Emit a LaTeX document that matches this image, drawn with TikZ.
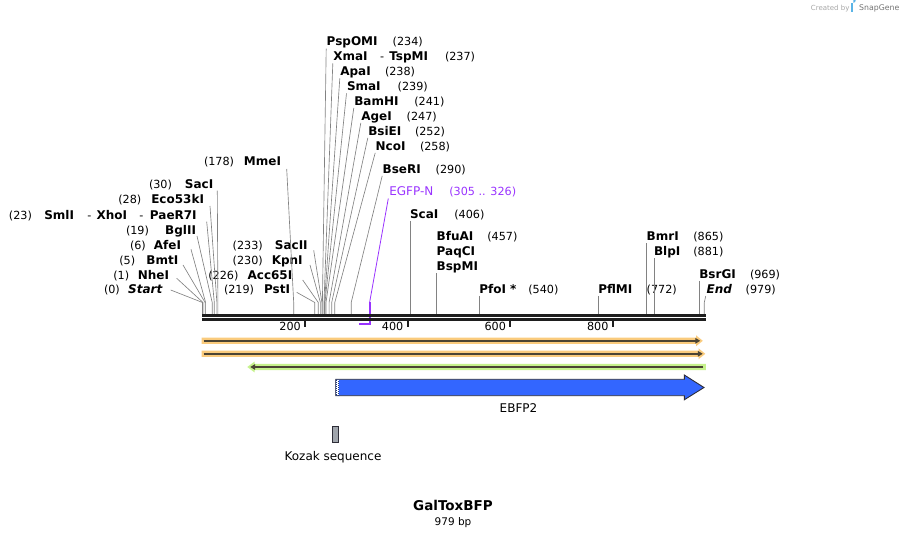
\documentclass[tikz,border=0pt]{standalone}
\usepackage{fontspec}
\setmainfont{DejaVu Sans}
\usetikzlibrary{arrows.meta}
\definecolor{cutgray}{RGB}{130,130,130}
\definecolor{primer}{RGB}{153,51,255}
\definecolor{orband}{RGB}{250,203,125}
\definecolor{grband}{RGB}{198,242,140}
\definecolor{bandline}{RGB}{75,68,52}
\definecolor{ebfp}{RGB}{51,102,255}
\definecolor{kozak}{RGB}{160,165,172}
\definecolor{outl}{RGB}{45,45,55}
\definecolor{mapc}{RGB}{30,30,30}
\definecolor{logoblue}{RGB}{90,180,230}
\begin{document}
\begin{tikzpicture}[x=1pt,y=-1pt,
  nm/.style={font=\bfseries\fontsize{12}{14}\selectfont, inner sep=0pt, outer sep=0pt},
  nmW/.style={nm, anchor=base west},
  nmE/.style={nm, anchor=base east},
  num/.style={font=\fontsize{11.2}{13}\selectfont, inner sep=0pt, outer sep=0pt, anchor=base west},
  flab/.style={font=\fontsize{12}{14}\selectfont, inner sep=0pt, outer sep=0pt, anchor=base},
  cut/.style={draw=cutgray, line width=0.65pt},
  ticklab/.style={font=\fontsize{11.2}{13}\selectfont, inner sep=0pt, anchor=base east}]
\useasboundingbox (0,0) rectangle (908,537);

% ---------- site coordinates (bend point and map point) ----------
\foreach \n/\x in {Start/202.5, NheI/203.0, BmtI/205.1, AfeI/205.6, BglII/212.2,
  SmlI/214.3, Eco53kI/216.9, SacI/217.9, MmeI/293.7, PstI/314.8, Acc65I/318.3,
  KpnI/320.4, SacII/321.9, PspOMI/322.4, XmaI/324.0, ApaI/324.5, SmaI/325.0,
  BamHI/326.0, AgeI/329.1, BsiEI/331.7, NcoI/334.8, BseRI/351.2, EGFPN/369.6,
  ScaI/410.6, BfuAI/436.8, PfoI/479.3, PflMI/598.2, BmrI/645.9, BlpI/654.1,
  BsrGI/699.2, End/704.3}{
  \coordinate (b\n) at (\x,302.5);
  \coordinate (s\n) at (\x,314);
}

% ---------- left labels ----------
\node[num] (pSacI) at (149,188.3) {(30)};
\node[nmE] (lSacI) at (213.3,188.3) {SacI};
\node[num] (pEco53kI) at (118.3,204) {(28)};
\node[nmE] (lEco53kI) at (204,204) {Eco53kI};
\node[num] (pSmlI) at (9,219.3) {(23)};
\node[nmW] (lSmlI) at (44.3,219.3) {SmlI};
\node[num] (dXhoI) at (87.3,219.3) {-};
\node[nmW] (lXhoI) at (96.7,219.3) {XhoI};
\node[num] (dPaeR7I) at (139.3,219.3) {-};
\node[nmE] (lPaeR7I) at (196.7,219.3) {PaeR7I};
\node[num] (pBglII) at (126,234.3) {(19)};
\node[nmE] (lBglII) at (196,234.3) {BglII};
\node[num] (pAfeI) at (130,249.3) {(6)};
\node[nmE] (lAfeI) at (181,249.3) {AfeI};
\node[num] (pBmtI) at (119.3,264.3) {(5)};
\node[nmE] (lBmtI) at (178.3,264.3) {BmtI};
\node[num] (pNheI) at (113.3,279.3) {(1)};
\node[nmE] (lNheI) at (169,279.3) {NheI};
\node[num] (pStart) at (104,294) {(0)};
\node[nmE] (lStart) at (162.3,294) {\itshape Start};

\node[num] (pMmeI) at (204,166) {(178)};
\node[nmE] (lMmeI) at (281,166) {MmeI};
\node[num] (pSacII) at (232.7,249.3) {(233)};
\node[nmE] (lSacII) at (307.7,249.3) {SacII};
\node[num] (pKpnI) at (232.7,264.3) {(230)};
\node[nmE] (lKpnI) at (302.7,264.3) {KpnI};
\node[num] (pAcc65I) at (208.3,279.3) {(226)};
\node[nmE] (lAcc65I) at (292.3,279.3) {Acc65I};
\node[num] (pPstI) at (224,294) {(219)};
\node[nmE] (lPstI) at (290,294) {PstI};

% ---------- top labels ----------
\node[nmW] (lPspOMI) at (326.7,46) {PspOMI};
\node[num] (pPspOMI) at (392.7,46) {(234)};
\node[nmW] (lXmaI) at (333.3,60.7) {XmaI};
\node[num] (dTspMI) at (380,60.7) {-};
\node[nmW] (lTspMI) at (389.3,60.7) {TspMI};
\node[num] (pXmaI) at (445,60.7) {(237)};
\node[nmW] (lApaI) at (340.3,75.7) {ApaI};
\node[num] (pApaI) at (385,75.7) {(238)};
\node[nmW] (lSmaI) at (347,90.7) {SmaI};
\node[num] (pSmaI) at (397.7,90.7) {(239)};
\node[nmW] (lBamHI) at (354.3,105.3) {BamHI};
\node[num] (pBamHI) at (414.3,105.3) {(241)};
\node[nmW] (lAgeI) at (361.3,120.3) {AgeI};
\node[num] (pAgeI) at (406.7,120.3) {(247)};
\node[nmW] (lBsiEI) at (368.3,135.3) {BsiEI};
\node[num] (pBsiEI) at (415,135.3) {(252)};
\node[nmW] (lNcoI) at (375.7,150.3) {NcoI};
\node[num] (pNcoI) at (420,150.3) {(258)};
\node[nmW] (lBseRI) at (382.7,173.3) {BseRI};
\node[num] (pBseRI) at (435.7,173.3) {(290)};
\node[flab, anchor=base west, text=primer] (lEGFPN) at (389.3,196) {EGFP-N};
\node[num, text=primer] (pEGFPN) at (449.3,196) {(305 .. 326)};

% ---------- right labels ----------
\node[nmW] (lScaI) at (410,218.3) {ScaI};
\node[num] (pScaI) at (454.3,218.3) {(406)};
\node[nmW] (lBfuAI) at (436.7,241) {BfuAI};
\node[num] (pBfuAI) at (487.3,241) {(457)};
\node[nmW] (lPaqCI) at (436.7,256) {PaqCI};
\node[nmW] (lBspMI) at (436.7,270.7) {BspMI};
\node[nmW] (lPfoI) at (479.3,293.3) {PfoI *};
\node[num] (pPfoI) at (528.3,293.3) {(540)};
\node[nmW] (lPflMI) at (598.3,293.3) {PflMI};
\node[num] (pPflMI) at (646.7,293.3) {(772)};
\node[nmW] (lBmrI) at (646.7,240.7) {BmrI};
\node[num] (pBmrI) at (693.3,240.7) {(865)};
\node[nmW] (lBlpI) at (654,255.7) {BlpI};
\node[num] (pBlpI) at (693.3,255.7) {(881)};
\node[nmW] (lBsrGI) at (699.3,278.3) {BsrGI};
\node[num] (pBsrGI) at (750,278.3) {(969)};
\node[nmW] (lEnd) at (706.7,293.3) {\itshape End};
\node[num] (pEnd) at (745.7,293.3) {(979)};

% ---------- connectors ----------
\draw[cut] ([shift={(4,2.4)}]lSacI.base east) -- (bSacI) -- (sSacI);
\draw[cut] ([shift={(6,2)}]lEco53kI.base east) -- (bEco53kI) -- (sEco53kI);
\draw[cut] ([shift={(10,2.4)}]lPaeR7I.base east) -- (bSmlI) -- (sSmlI);
\draw[cut] ([shift={(1,1.7)}]lBglII.base east) -- (bBglII) -- (sBglII);
\draw[cut] ([shift={(10,0)}]lAfeI.base east) -- (bAfeI) -- (sAfeI);
\draw[cut] ([shift={(4.7,0.7)}]lBmtI.base east) -- (bBmtI) -- (sBmtI);
\draw[cut] ([shift={(7.7,-1)}]lNheI.base east) -- (bNheI) -- (sNheI);
\draw[cut] ([shift={(8.4,-4)}]lStart.base east) -- (bStart) -- (sStart);
\draw[cut] ([shift={(5.7,3)}]lMmeI.base east) -- (bMmeI) -- (sMmeI);
\draw[cut] ([shift={(6,1)}]lSacII.base east) -- (bSacII) -- (sSacII);
\draw[cut] ([shift={(7.3,0.7)}]lKpnI.base east) -- (bKpnI) -- (sKpnI);
\draw[cut] ([shift={(10.4,0.7)}]lAcc65I.base east) -- (bAcc65I) -- (sAcc65I);
\draw[cut] ([shift={(6.7,-1.7)}]lPstI.base east) -- (bPstI) -- (sPstI);

\foreach \n in {PspOMI,XmaI,ApaI,SmaI,BamHI,AgeI,BsiEI,NcoI,BseRI}{
  \draw[cut] ([shift={(-0.5,2.6)}]l\n.base west) -- (b\n) -- (s\n);
}
\draw[primer, line width=0.8pt] ([shift={(-1,2.5)}]lEGFPN.base west) -- (bEGFPN);
\coordinate (pr1) at (358.8,324);
\draw[primer, line width=1.8pt] (bEGFPN) -- (369.6,324) -- (pr1);

\draw[cut] ([shift={(0.6,2.7)}]lScaI.base west) -- (sScaI);
\draw[cut] ([shift={(0.1,2.7)}]lBspMI.base west) -- (sBfuAI);
\draw[cut] ([shift={(0,2.7)}]lPfoI.base west) -- (sPfoI);
\draw[cut] ([shift={(-0.1,2.7)}]lPflMI.base west) -- (sPflMI);
\draw[cut] ([shift={(-0.8,2.7)}]lBmrI.base west) -- (sBmrI);
\draw[cut] ([shift={(0.1,2.7)}]lBlpI.base west) -- (sBlpI);
\draw[cut] ([shift={(-0.1,2.7)}]lBsrGI.base west) -- (sBsrGI);
\draw[cut] ([shift={(-1,2.7)}]lEnd.base west) -- (bEnd) -- (sEnd);

% ---------- map ----------
\coordinate (mapL) at (202,315.4);
\coordinate (mapR) at (705.7,315.4);
\draw[mapc, line width=2.9pt] (mapL) -- (mapR);
\draw[mapc, line width=2.5pt] ([yshift=-4.2]mapL) -- ([yshift=-4.2]mapR);
\foreach \t/\x in {200/305.0, 400/407.5, 600/510.1, 800/612.6}{
  \draw[mapc, line width=2pt] (\x,320.5) -- (\x,327);
  \node[ticklab] (t\t) at (\x-4,331) {\t};
}

% ---------- feature bands ----------
\fill[orband] (201.7,337.6) -- (696,337.6) -- (696,335.3) -- (702.8,340.8) -- (696,346.3) -- (696,344) -- (201.7,344) -- cycle;
\draw[bandline, line width=2.4pt, -{Triangle[length=5pt,width=5.5pt]}] (203.5,340.8) -- (700.3,340.8);
\fill[orband] (201.7,350.6) -- (698.5,350.6) -- (698.5,348.3) -- (705.3,353.8) -- (698.5,359.3) -- (698.5,357) -- (201.7,357) -- cycle;
\draw[bandline, line width=2.4pt, -{Triangle[length=5pt,width=5.5pt]}] (203.5,353.8) -- (702.8,353.8);
\fill[grband] (705.9,363.8) -- (254.5,363.8) -- (254.5,361.6) -- (247.3,367) -- (254.5,372.4) -- (254.5,370.2) -- (705.9,370.2) -- cycle;
\draw[bandline, line width=2.4pt, -{Triangle[length=5pt,width=5.5pt]}] (703.3,367) -- (250.2,367);

% EBFP2
\filldraw[fill=ebfp, draw=outl, line width=0.9pt] (335.7,379.3) -- (684.3,379.3) -- (684.3,375) -- (704,387.5) -- (684.3,399.8) -- (684.3,395.7) -- (335.7,395.7) -- cycle;
\fill[white] (336.2,379.8) rectangle (339,395.2);
\draw[ebfp!50!black, line width=0.9pt, dash pattern=on 1pt off 1pt] (336.7,379.8) -- (336.7,395.2);
\draw[ebfp!50!black, line width=0.9pt, dash pattern=on 1pt off 1pt, dash phase=1pt] (338.5,379.8) -- (338.5,395.2);
\node[flab] (lEBFP2) at (518.5,412) {EBFP2};

% Kozak
\filldraw[fill=kozak, draw=outl, line width=0.8pt] (332.7,426.3) rectangle (337.9,442);
\node[flab] (lKozak) at (333,460) {Kozak sequence};

% title
\node[font=\bfseries\fontsize{13.5}{16}\selectfont, inner sep=0pt, anchor=base] (title) at (453,510) {GalToxBFP};
\node[font=\fontsize{10.5}{12}\selectfont, inner sep=0pt, anchor=base] (size) at (453,525) {979 bp};

% watermark
\node[font=\fontsize{7}{8}\selectfont, text=black!35, inner sep=0pt, anchor=base west] (wm1) at (810.7,10.5) {Created by};
\fill[logoblue] (851.3,2.8) rectangle (853.3,12.3);
\fill[logoblue] (853.3,2.8) arc[start angle=90, end angle=-90, radius=2.4];
\node[font=\fontsize{7.8}{9}\selectfont, text=black!55, inner sep=0pt, anchor=base west] (wm2) at (859,10.5) {SnapGene};
\end{tikzpicture}
\end{document}
